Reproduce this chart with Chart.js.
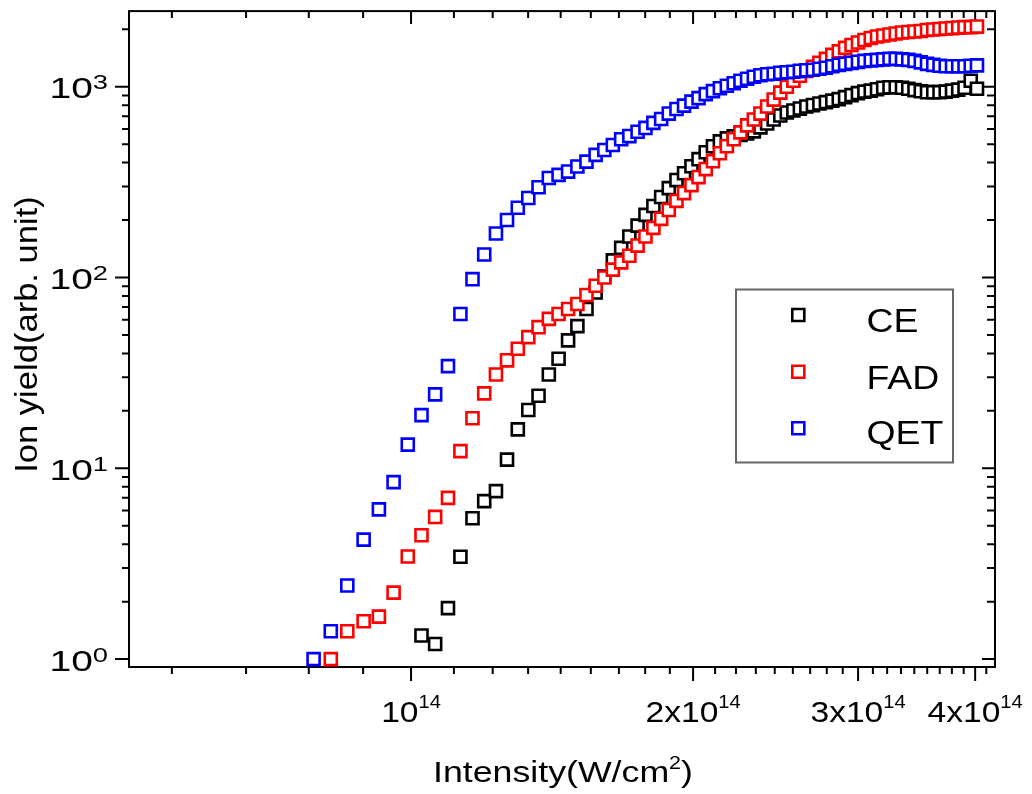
<!DOCTYPE html>
<html>
<head>
<meta charset="utf-8">
<title>Ion yield vs intensity</title>
<script src="https://cdn.jsdelivr.net/npm/chart.js@4.4.1/dist/chart.umd.min.js"></script>
<style>
  html, body { margin: 0; padding: 0; background: #ffffff; }
  #wrap { width: 1032px; height: 794px; }
</style>
</head>
<body>
<div id="wrap"><canvas id="chart" width="1032" height="794"></canvas></div>
<script>
// Laser intensity, in units of 10^14 W/cm^2
const intensity = [
  0.787, 0.821, 0.855, 0.890, 0.924, 0.958, 0.992, 1.026, 1.061, 1.095,
  1.129, 1.163, 1.197, 1.232, 1.266, 1.300, 1.334, 1.368, 1.403, 1.437,
  1.471, 1.505, 1.539, 1.574, 1.608, 1.642, 1.676, 1.710, 1.745, 1.779,
  1.814, 1.849, 1.884, 1.920, 1.956, 1.992, 2.027, 2.063, 2.100, 2.136,
  2.173, 2.210, 2.247, 2.284, 2.322, 2.360, 2.399, 2.438, 2.478, 2.518,
  2.559, 2.600, 2.642, 2.685, 2.728, 2.772, 2.816, 2.861, 2.906, 2.952,
  2.999, 3.047, 3.095, 3.143, 3.191, 3.241, 3.291, 3.342, 3.394, 3.446,
  3.500, 3.554, 3.609, 3.665, 3.721, 3.779, 3.837, 3.897, 3.957, 4.018
];

// Ion yields (arb. unit); null where a channel has no signal
const ceYield = [
  null, null, null, null, null, null, null,
  1.33, 1.20, 1.85, 3.44, 5.47, 6.73, 7.59, 11.1, 16.0, 20.2,
  24.0, 31.0, 37.5, 46.8, 55.6, 68.4, 83.5, 101, 123, 143,
  164, 187, 213, 237, 264, 294, 324, 352, 383, 417,
  453, 487, 517, 536, 549, 559, 569, 583, 612, 642,
  673, 706, 732, 750, 768, 787, 801, 816, 830, 845,
  861, 882, 903, 925, 942, 953, 970, 988, 994, 994,
  988, 976, 959, 947, 936, 936, 936, 942, 953, 965,
  988, 1075, 976
];

const fadYield = [
  null,
  1.0, 1.40, 1.58, 1.67, 2.23, 3.45, 4.46, 5.56, 7.0,
  12.3, 18.3, 24.7, 31.0, 36.8, 42.3, 48.7, 54.9, 60.7, 64.4,
  68.4, 72.6, 80.9, 90.5, 100, 110, 120, 130, 147, 164,
  182, 203, 226, 252, 277, 305, 336, 370, 407, 448,
  487, 530, 576, 627, 673, 723, 787, 856, 931, 1000,
  1075, 1141, 1211, 1271, 1334, 1399, 1468, 1531, 1597, 1655,
  1705, 1757, 1800, 1832, 1854, 1877, 1899, 1923, 1934, 1946,
  1957, 1981, 1993, 2005, 2017, 2029, 2041, 2053, 2053, 2066
];

const qetYield = [
  1.0, 1.40, 2.43, 4.23, 6.09, 8.46, 13.3, 19.0, 24.4, 34.3,
  64.4, 98.0, 132, 170, 200, 232, 261, 297, 332, 345,
  359, 382, 405, 439, 466, 495, 530, 551, 581, 608,
  646, 677, 723, 764, 796, 835, 871, 914, 948, 982,
  1012, 1043, 1075, 1101, 1128, 1148, 1162, 1169, 1183, 1190,
  1197, 1211, 1219, 1226, 1241, 1256, 1279, 1302, 1318, 1334,
  1350, 1366, 1374, 1382, 1391, 1399, 1399, 1391, 1382, 1366,
  1342, 1318, 1302, 1287, 1279, 1279, 1279, 1279, 1287, 1294
];

const seriesNames = ['CE', 'FAD', 'QET'];
const seriesColors = ['#000000', '#ff0000', '#0000ff'];

// Axis ranges and tick labels
const xRange = [0.5, 4.2];
const yRange = [0.909, 2490];
const xMajorTicks = [1, 2, 3, 4];
const xMajorLabels = ['10', '2x10', '3x10', '4x10'];
const xLabelExponent = '14';
const yMajorTicks = [1, 10, 100, 1000];
const yMajorLabels = ['10', '10', '10', '10'];
const yLabelExponents = ['0', '1', '2', '3'];
const xTitle = ['Intensity(W/cm', '2', ')'];
const yTitle = 'Ion yield(arb. unit)';

const FONT = '"Liberation Sans", Arial, Helvetica, sans-serif';
const MARK_R = 8.5;
const MARK_W = 2.6;

function xTickList() {
  const out = [];
  for (let n = 1; n * (1 / 9) <= xRange[1] + 1e-9; n++) {
    const v = n / 9;
    if (v < xRange[0] - 1e-9) continue;
    if (n % 9 === 0) continue;
    out.push({ value: v, major: false });
  }
  xMajorTicks.forEach(v => out.push({ value: v, major: true }));
  return out.sort((a, b) => a.value - b.value);
}

function yTickList() {
  const out = [];
  for (let k = 0; k <= 3; k++) {
    for (let m = 1; m <= 9; m++) {
      const v = m * Math.pow(10, k);
      if (v < yRange[0] || v > yRange[1]) continue;
      out.push({ value: v, major: m === 1 });
    }
  }
  return out;
}

function setFont(ctx, px) { ctx.font = px + 'px ' + FONT; }

// Draw a run of text pieces (base text + raised superscripts) with horizontal scaling
function drawRun(ctx, parts, x, y, sx, anchor) {
  let total = 0;
  parts.forEach(p => { setFont(ctx, p.size); p.w = ctx.measureText(p.t).width; total += p.w; });
  const start = anchor === 'center' ? -total / 2 : anchor === 'right' ? -total : 0;
  ctx.save();
  ctx.translate(x, y);
  ctx.scale(sx, 1);
  ctx.textAlign = 'left';
  ctx.textBaseline = 'alphabetic';
  ctx.fillStyle = '#000';
  let cx = start;
  parts.forEach(p => { setFont(ctx, p.size); ctx.fillText(p.t, cx, p.dy || 0); cx += p.w; });
  ctx.restore();
}

function drawSquare(ctx, x, y, color) {
  const h = MARK_R * Math.SQRT1_2;
  ctx.save();
  ctx.beginPath();
  ctx.rect(x - h, y - h, 2 * h, 2 * h);
  ctx.fillStyle = '#ffffff';
  ctx.fill();
  ctx.lineWidth = MARK_W;
  ctx.strokeStyle = color;
  ctx.stroke();
  ctx.restore();
}

const framePlugin = {
  id: 'frame',
  beforeDatasetsDraw(chart) {
    const ctx = chart.ctx;
    const a = chart.chartArea;
    const xs = chart.scales.x;
    const ys = chart.scales.y;
    ctx.save();
    ctx.strokeStyle = '#000';
    ctx.lineWidth = 2;
    ctx.strokeRect(a.left, a.top, a.right - a.left, a.bottom - a.top);

    ctx.beginPath();
    xs.ticks.forEach(t => {
      const px = xs.getPixelForValue(t.value);
      const out = t.major ? 14 : 7;
      const inn = t.major ? 13 : 7;
      ctx.moveTo(px, a.bottom); ctx.lineTo(px, a.bottom + out);
      ctx.moveTo(px, a.top); ctx.lineTo(px, a.top + inn);
    });
    ys.ticks.forEach(t => {
      const py = ys.getPixelForValue(t.value);
      const out = t.major ? 14 : 7;
      const inn = t.major ? 13 : 8;
      ctx.moveTo(a.left - out, py); ctx.lineTo(a.left, py);
      ctx.moveTo(a.right, py); ctx.lineTo(a.right - inn, py);
    });
    ctx.stroke();
    ctx.restore();

    // tick labels
    xMajorTicks.forEach((v, i) => {
      const px = xs.getPixelForValue(v);
      drawRun(ctx, [{ t: xMajorLabels[i], size: 30 }, { t: xLabelExponent, size: 18, dy: -14 }],
        px, 722, 1.12, 'center');
    });
    yMajorTicks.forEach((v, i) => {
      const py = ys.getPixelForValue(v);
      drawRun(ctx, [{ t: yMajorLabels[i], size: 30 }, { t: yLabelExponents[i], size: 21, dy: -9 }],
        108, py + 11.5, 1.3, 'right');
    });

    // axis titles
    drawRun(ctx, [{ t: xTitle[0], size: 30 }, { t: xTitle[1], size: 18, dy: -13 }, { t: xTitle[2], size: 30 }],
      563, 781.5, 1.19, 'center');
    ctx.save();
    ctx.translate(37, 334.5);
    ctx.rotate(-Math.PI / 2);
    drawRun(ctx, [{ t: yTitle, size: 32 }], 0, 0, 1.08, 'center');
    ctx.restore();
  },
  afterDatasetsDraw(chart) {
    const ctx = chart.ctx;
    ctx.save();
    ctx.strokeStyle = '#666666';
    ctx.lineWidth = 2;
    ctx.strokeRect(736, 289.5, 217, 173);
    ctx.restore();
    const rowY = [315, 371.7, 428.3];
    const baseY = [331.5, 388.5, 444];
    seriesNames.forEach((name, i) => {
      drawSquare(ctx, 798.3, rowY[i], seriesColors[i]);
      drawRun(ctx, [{ t: name, size: 34 }], 866.5, baseY[i], 1.1, 'left');
    });
  }
};

function makeSet(i, values, order) {
  return {
    label: seriesNames[i],
    data: intensity.map((x, k) => ({ x: x, y: values[k] })).filter(p => p.y !== null),
    showLine: false,
    pointStyle: 'rect',
    pointRadius: MARK_R,
    pointHoverRadius: MARK_R,
    pointBorderWidth: MARK_W,
    pointBackgroundColor: '#ffffff',
    pointBorderColor: seriesColors[i],
    order: order,
    clip: false
  };
}

new Chart(document.getElementById('chart'), {
  type: 'scatter',
  data: {
    datasets: [
      makeSet(0, ceYield, 3),
      makeSet(1, fadYield, 2),
      makeSet(2, qetYield, 1)
    ]
  },
  options: {
    responsive: false,
    animation: false,
    devicePixelRatio: 1,
    events: [],
    layout: { padding: { left: 129, right: 37, top: 7, bottom: 127 } },
    plugins: { legend: { display: false }, tooltip: { enabled: false } },
    scales: {
      x: {
        type: 'logarithmic',
        min: xRange[0],
        max: xRange[1],
        ticks: { display: false },
        grid: { display: false },
        border: { display: false },
        afterBuildTicks(scale) { scale.ticks = xTickList(); },
        afterFit(scale) { scale.height = 0; }
      },
      y: {
        type: 'logarithmic',
        min: yRange[0],
        max: yRange[1],
        ticks: { display: false },
        grid: { display: false },
        border: { display: false },
        afterBuildTicks(scale) { scale.ticks = yTickList(); },
        afterFit(scale) { scale.width = 0; }
      }
    }
  },
  plugins: [framePlugin]
});
</script>
</body>
</html>
